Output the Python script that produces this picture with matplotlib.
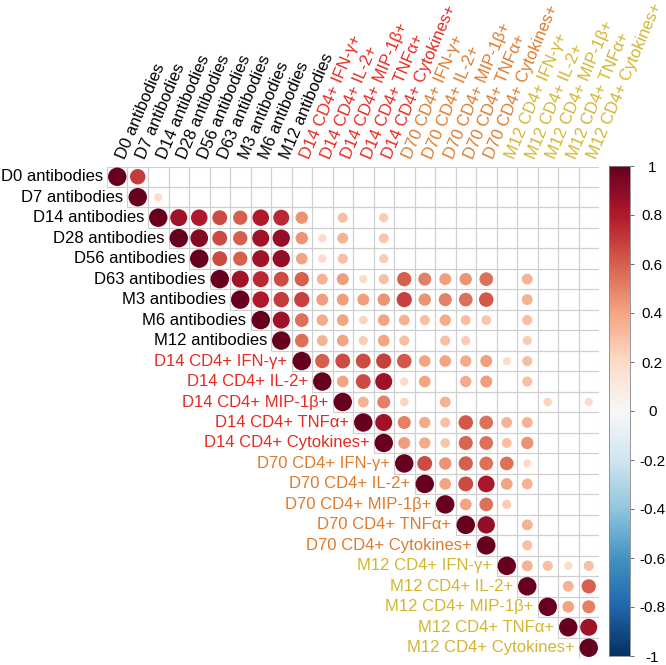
import numpy as np
import matplotlib
matplotlib.use("Agg")
import matplotlib.pyplot as plt
from matplotlib.patches import Circle, Rectangle
from matplotlib.collections import PatchCollection
from matplotlib.colors import Normalize
from matplotlib.cm import ScalarMappable

plt.rcParams['font.family'] = ['Liberation Sans', 'DejaVu Sans']

labels = ["D0 antibodies", "D7 antibodies", "D14 antibodies", "D28 antibodies",
          "D56 antibodies", "D63 antibodies", "M3 antibodies", "M6 antibodies",
          "M12 antibodies",
          "D14 CD4+ IFN-γ+", "D14 CD4+ IL-2+", "D14 CD4+ MIP-1β+", "D14 CD4+ TNFα+",
          "D14 CD4+ Cytokines+",
          "D70 CD4+ IFN-γ+", "D70 CD4+ IL-2+", "D70 CD4+ MIP-1β+", "D70 CD4+ TNFα+",
          "D70 CD4+ Cytokines+",
          "M12 CD4+ IFN-γ+", "M12 CD4+ IL-2+", "M12 CD4+ MIP-1β+", "M12 CD4+ TNFα+",
          "M12 CD4+ Cytokines+"]
label_groups = ["ab"] * 9 + ["d14"] * 5 + ["d70"] * 5 + ["m12"] * 5
group_colors = {"ab": "#000000", "d14": "#E62A22", "d70": "#DE7A2C", "m12": "#D2B631"}

n = np.nan
# upper-triangle correlations, row i lists columns i+1 .. 23 (nan = not significant / blank)
upper_rows = [
    [0.70] + [n] * 22,
    [0.20] + [n] * 21,
    [0.85, 0.80, 0.65, 0.60, 0.80, 0.75, 0.45, n, 0.30, n, 0.25] + [n] * 10,
    [0.92, 0.65, 0.60, 0.85, 0.88, 0.45, 0.20, 0.35, n, 0.28] + [n] * 10,
    [0.65, 0.60, 0.85, 0.88, 0.40, 0.20, 0.30, n, 0.25] + [n] * 10,
    [0.85, 0.75, 0.65, 0.60, 0.35, 0.42, 0.20, 0.30, 0.60, 0.50, 0.42, 0.45, 0.55, n, 0.35, n, n, n],
    [0.80, 0.70, 0.68, 0.42, 0.42, 0.42, 0.45, 0.68, 0.45, 0.50, 0.55, 0.62, n, 0.35, n, n, n],
    [0.85, 0.55, 0.38, 0.40, 0.22, 0.40, 0.35, 0.30, 0.38, 0.30, 0.28, n, 0.30, n, n, n],
    [0.55, 0.35, 0.40, 0.25, 0.40, 0.30, n, 0.30, 0.25, n, n, 0.25, n, n, n],
    [0.60, 0.65, 0.65, 0.68, 0.62, 0.40, 0.40, 0.38, 0.42, 0.20, 0.30, n, n, n],
    [0.40, 0.65, 0.85, 0.20, 0.40, n, 0.38, 0.42, n, 0.30, n, n, n],
    [0.35, 0.50, 0.22, n, 0.35, n, n, n, n, 0.22, n, 0.20],
    [0.85, 0.50, 0.38, 0.30, 0.62, 0.55, 0.35, 0.35, n, n, n],
    [0.42, 0.38, 0.28, 0.58, 0.55, 0.30, 0.45, n, n, n],
    [0.65, 0.45, 0.60, 0.55, 0.55, 0.20, n, n, n],
    [0.40, 0.65, 0.82, 0.40, 0.35, n, n, n],
    [0.40, 0.55, 0.25, n, n, n, n],
    [0.88, n, 0.35, n, n, n],
    [n, 0.30, n, n, n],
    [0.35, 0.30, 0.20, 0.30],
    [n, 0.35, 0.60],
    [0.40, 0.50],
    [0.85],
    [],
]

N = len(labels)
corr = np.full((N, N), np.nan)
for i in range(N):
    corr[i, i] = 1.0
    for k, v in enumerate(upper_rows[i]):
        corr[i, i + 1 + k] = v

W, H = 666, 665
fig = plt.figure(figsize=(W / 100, H / 100), dpi=100)
gx0, gx1, gy0, gy1 = 107, 599, 166.5, 658
ax = fig.add_axes([gx0 / W, 1 - gy1 / H, (gx1 - gx0) / W, (gy1 - gy0) / H])
ax.set_xlim(-0.5, N - 0.5)
ax.set_ylim(N - 0.5, -0.5)
ax.axis('off')

cmap = plt.get_cmap('RdBu_r')
norm = Normalize(-1, 1)

# grid cells (upper triangle incl. diagonal)
rects = []
for i in range(N):
    for j in range(i, N):
        rects.append(Rectangle((j - 0.5, i - 0.5), 1, 1))
ax.add_collection(PatchCollection(rects, facecolor='none', edgecolor='#cfcfcf', linewidth=0.8))

# circles
circles, vals = [], []
for i in range(N):
    for j in range(i, N):
        v = corr[i, j]
        if np.isnan(v):
            continue
        circles.append(Circle((j, i), 0.45 * np.sqrt(abs(v))))
        vals.append(v)
pc = PatchCollection(circles, cmap=cmap, norm=norm, edgecolor='none')
pc.set_array(np.array(vals))
ax.add_collection(pc)

# labels
for i, lab in enumerate(labels):
    col = group_colors[label_groups[i]]
    ax.text(i - 0.7, i, lab, ha='right', va='center', fontsize=12, color=col, clip_on=False)
    ax.text(i + 0.5, -0.75, lab, ha='left', va='bottom', rotation=67,
            rotation_mode='anchor', fontsize=12, color=col, clip_on=False)

# colorbar
cax = fig.add_axes([609 / W, 1 - 656 / H, 21 / W, (656 - 166) / H])
sm = ScalarMappable(norm=norm, cmap=cmap)
cb = fig.colorbar(sm, cax=cax)
ticks = np.round(np.arange(-1, 1.01, 0.2), 1)
cb.set_ticks(ticks)
cb.set_ticklabels([("%g" % t) if abs(t) > 1e-9 else "0" for t in ticks])
cb.outline.set_linewidth(0.6)
cb.outline.set_edgecolor('#888888')
cax.tick_params(length=3, width=0.6, color='#555555', labelsize=11, pad=13)
for t in cax.get_yticklabels():
    t.set_horizontalalignment('center')

fig.savefig("out.png", dpi=100)
